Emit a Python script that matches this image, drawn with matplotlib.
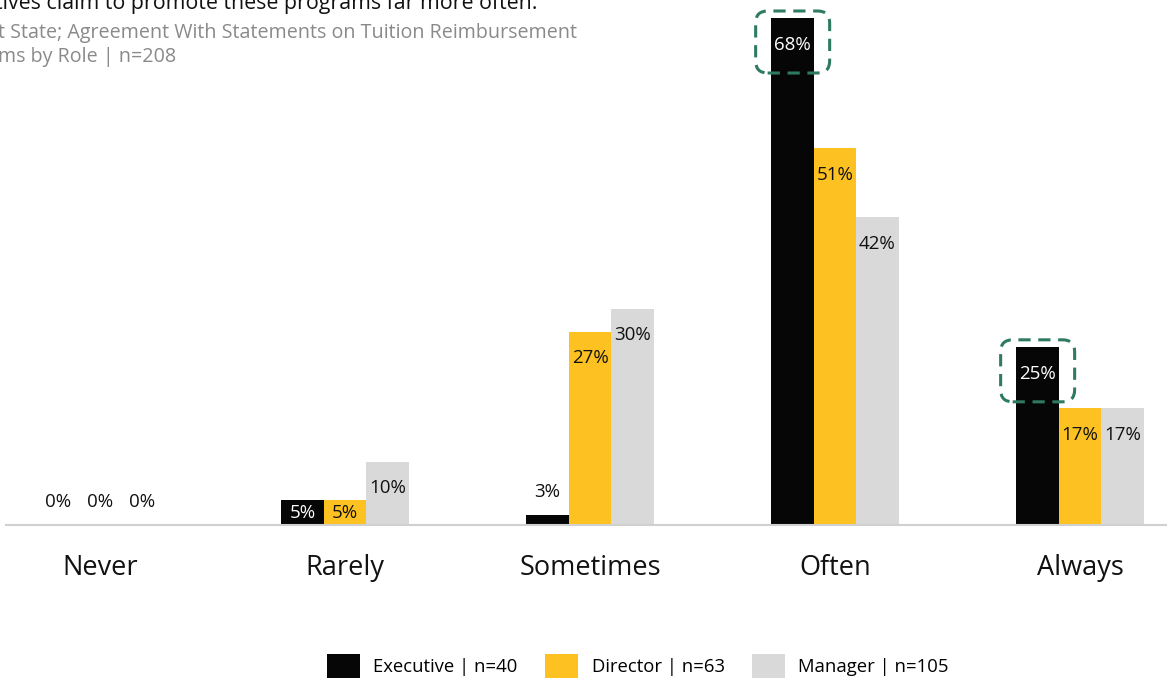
import numpy as np
import matplotlib
matplotlib.use("Agg")
import matplotlib.pyplot as plt
from matplotlib.patches import FancyBboxPatch, Patch

plt.rcParams['font.family'] = ['Open Sans', 'DejaVu Sans']

# Data
categories = ['Never', 'Rarely', 'Sometimes', 'Often', 'Always']
roles = ['Executive | n=40', 'Director | n=63', 'Manager | n=105']
executive = [0, 5, 3, 68, 25]
director = [0, 5, 27, 51, 17]
manager = [0, 10, 30, 42, 17]
highlight = [(3, 0), (4, 0)]  # (category, series) pairs boxed in the chart

title_text = 'tives claim to promote these programs far more often.'
subtitle_text = 't State; Agreement With Statements on Tuition Reimbursement\nms by Role | n=208'

colors = ['#060606', '#FDC221', '#D9D9D9']
label_colors = ['white', '#111111', '#111111']
box_color = '#2E7A62'

W, H = 1167, 681
fig = plt.figure(figsize=(W / 100, H / 100), dpi=100)
ax = fig.add_axes([6 / W, 1 - 525 / H, 1161 / W, (525 - 18) / H])

series = [executive, director, manager]
x = np.arange(len(categories))
width = 0.173
ymin, ymax = 1.7, 68

for i, vals in enumerate(series):
    xs = x + (i - 1) * width
    ax.bar(xs, vals, width, color=colors[i], label=roles[i], zorder=2)
    for xi, v in zip(xs, vals):
        if v >= 8:
            ly, c = v - 3.5, label_colors[i]
        elif v >= 5:
            ly, c = v - 1.7, label_colors[i]
        else:
            ly, c = max(v, ymin) + 3.0, '#111111'
        ax.text(xi, ly, f'{v}%', ha='center', va='center', fontsize=13.5,
                color=c, zorder=4, clip_on=False)

# dashed rounded callout boxes
px_x = (4.355 + 0.384) / 1161   # data units per pixel (x)
px_y = (ymax - ymin) / 507      # data units per pixel (y)
for ci, si in highlight:
    v = series[si][ci]
    cx = x[ci] + (si - 1) * width
    bw, bh = 74 * px_x, 62 * px_y
    top = v + 7 * px_y
    box = FancyBboxPatch((cx - bw / 2, top - bh), bw, bh,
                         boxstyle=f'round,pad=0,rounding_size={12 * px_x}',
                         mutation_aspect=px_y / px_x,
                         fill=False, edgecolor=box_color, linewidth=2.2,
                         linestyle=(0, (4, 2.5)), zorder=5, clip_on=False)
    ax.add_patch(box)

ax.set_xlim(-0.384, 4.355)
ax.set_ylim(ymin, ymax)
ax.set_xticks(x)
ax.set_xticklabels(categories, fontsize=19.5, color='#111111')
ax.tick_params(axis='x', length=0, pad=21)
ax.set_yticks([])
for s in ['top', 'right', 'left']:
    ax.spines[s].set_visible(False)
ax.spines['bottom'].set_color('#D0D0D0')
ax.spines['bottom'].set_linewidth(1.5)

fig.text(-5 / W, 1 - 3 / H, title_text, fontsize=15.4, color='#111111',
         ha='left', va='center')
fig.text(-2 / W, 1 - 45 / H, subtitle_text, fontsize=14.2, color='#8A8A8A',
         ha='left', va='center', linespacing=1.3)

handles = [Patch(facecolor=c) for c in colors]
fig.legend(handles, roles, loc='center', bbox_to_anchor=(638 / W, 1 - 666 / H),
           ncol=3, frameon=False, fontsize=13.3, handlelength=1.78,
           handleheight=1.6, handletextpad=0.72, columnspacing=1.5)

fig.savefig('out.png', dpi=100)
